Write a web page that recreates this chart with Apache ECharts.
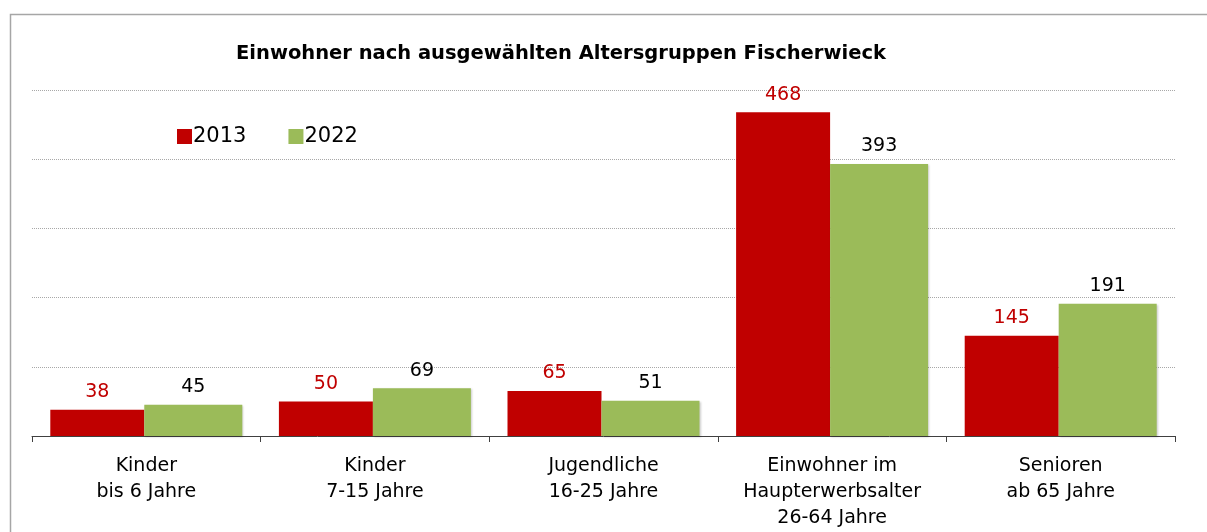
<!DOCTYPE html>
<html>
<head>
<meta charset="utf-8">
<script src="https://cdn.jsdelivr.net/npm/echarts@6/dist/echarts.min.js"></script>
<style>
  html, body { margin: 0; padding: 0; background: #fff; }
  #main { width: 1207px; height: 532px; }
</style>
</head>
<body>
<div id="main"></div>
<script>
// Altersgruppen (Achsenbeschriftung)
var categories = [
  'Kinder\nbis 6 Jahre',
  'Kinder\n7-15 Jahre',
  'Jugendliche\n16-25 Jahre',
  'Einwohner im\nHaupterwerbsalter\n26-64 Jahre',
  'Senioren\nab 65 Jahre'
]
var values2013 = [38, 50, 65, 468, 145]
var values2022 = [45, 69, 51, 393, 191]
var yMax = 500
var yStep = 100

var font = 'Tahoma, "DejaVu Sans", sans-serif'
var chart = echarts.init(document.getElementById('main'))
chart.setOption({
  animation: false,
  textStyle: { fontFamily: font },
  graphic: [
    {
      type: 'rect',
      shape: { x: 10.5, y: 14.5, width: 1210, height: 540 },
      style: { fill: 'none', stroke: '#a6a6a6', lineWidth: 1.5 },
      silent: true
    }
  ],
  title: {
    text: 'Einwohner nach ausgewählten Altersgruppen Fischerwieck',
    left: 231,
    top: 39,
    textStyle: { fontFamily: font, fontSize: 19.5, fontWeight: 'bold', color: '#000' }
  },
  legend: {
    left: 172,
    top: 121,
    itemWidth: 15,
    itemHeight: 15,
    itemGap: 42,
    icon: 'rect',
    textStyle: { fontFamily: font, fontSize: 21, color: '#000', padding: [0, 0, 0, -4] },
    data: ['2013', '2022']
  },
  grid: { left: 32, right: 32, top: 90, bottom: 96, containLabel: false },
  xAxis: {
    type: 'category',
    data: categories,
    axisLine: { lineStyle: { color: '#404040', width: 1 } },
    axisTick: { show: true, length: 6, lineStyle: { color: '#404040' } },
    axisLabel: { fontFamily: font, fontSize: 19, color: '#000', lineHeight: 26, margin: 17, interval: 0 }
  },
  yAxis: {
    type: 'value',
    min: 0,
    max: yMax,
    interval: yStep,
    axisLine: { show: false },
    axisTick: { show: false },
    axisLabel: { show: false },
    splitLine: { lineStyle: { color: '#a8a8a8', type: [1, 1], width: 1 } }
  },
  series: [
    {
      name: '2013',
      type: 'bar',
      data: values2013,
      barWidth: 94,
      barGap: '0%',
      itemStyle: { color: '#c00000' },
      label: { show: true, position: 'top', distance: 8, fontFamily: font, fontSize: 19, color: '#c00000' }
    },
    {
      name: '2022',
      type: 'bar',
      data: values2022,
      barWidth: 98,
      itemStyle: {
        color: '#9bbb59',
        shadowColor: 'rgba(0,0,0,0.2)',
        shadowBlur: 2,
        shadowOffsetX: 1,
        shadowOffsetY: 1
      },
      label: { show: true, position: 'top', distance: 8, fontFamily: font, fontSize: 19, color: '#000' }
    }
  ]
})
</script>
</body>
</html>
